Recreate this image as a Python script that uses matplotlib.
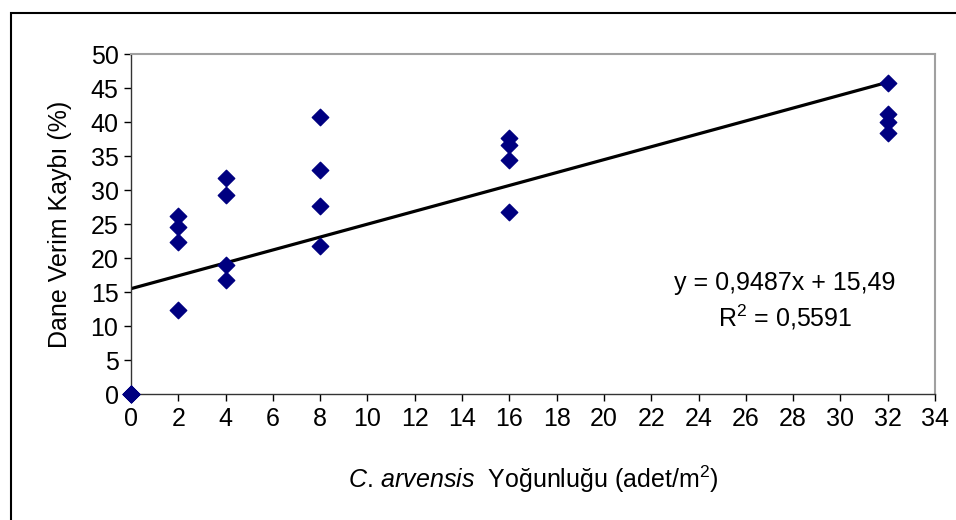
import numpy as np
import matplotlib.pyplot as plt
from matplotlib.patches import Rectangle

plt.rcParams['font.family'] = ['Liberation Sans', 'DejaVu Sans']
plt.rcParams['mathtext.fontset'] = 'custom'
plt.rcParams['mathtext.rm'] = 'Liberation Sans'
plt.rcParams['mathtext.it'] = 'Liberation Sans:italic'

# Data (4 replicates per density)
density = [0, 0, 0, 0,
           2, 2, 2, 2,
           4, 4, 4, 4,
           8, 8, 8, 8,
           16, 16, 16, 16,
           32, 32, 32, 32]
yield_loss = [0, 0, 0, 0,
              26.2, 24.6, 22.3, 12.3,
              31.8, 29.3, 19.0, 16.7,
              40.8, 33.0, 27.6, 21.7,
              37.6, 36.6, 34.4, 26.7,
              45.8, 41.2, 40.0, 38.4]
slope, intercept = 0.9487, 15.49

fs = 18

fig = plt.figure(figsize=(9.56, 5.2), dpi=100)
ax = fig.add_axes([131/956, 1 - 394/520, (935 - 131)/956, (394 - 54)/520])

# outer chart frame (only top/left visible in the reference)
fig.patches.append(Rectangle((11/956, -0.1), 1.2, 1 - 13/520 + 0.1,
                             transform=fig.transFigure, fill=False,
                             edgecolor='black', linewidth=1.5))

ax.scatter(density, yield_loss, marker='D', s=70, color='#000080', zorder=3,
           clip_on=False)

xs = np.array([0, 32])
ax.plot(xs, slope * xs + intercept, color='black', linewidth=2.3, zorder=2)

ax.set_xlim(0, 34)
ax.set_ylim(0, 50)
ax.set_xticks(np.arange(0, 35, 2))
ax.set_yticks(np.arange(0, 51, 5))
ax.tick_params(direction='out', length=5, width=1, labelsize=fs, pad=4)

for side in ['top', 'right']:
    ax.spines[side].set_color('#a0a0a0')
    ax.spines[side].set_linewidth(1.5)
for side in ['left', 'bottom']:
    ax.spines[side].set_color('#333333')
    ax.spines[side].set_linewidth(1)

ax.set_ylabel('Dane Verim Kaybı (%)', fontsize=fs, labelpad=13)
ax.set_xlabel(r'$\it{C.\,arvensis}$  Yoğunluğu (adet/m$^2$)', fontsize=fs,
              labelpad=24)

ax.text(27.65, 16.3, 'y = 0,9487x + 15,49', fontsize=fs, ha='center', va='center')
ax.text(27.65, 11.3, 'R$^2$ = 0,5591', fontsize=fs, ha='center', va='center')

fig.savefig('out.png', dpi=100)
